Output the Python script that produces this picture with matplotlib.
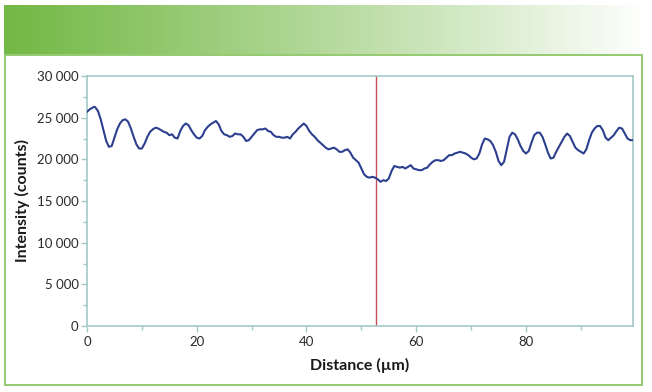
import numpy as np
import matplotlib
matplotlib.use("Agg")
import matplotlib.pyplot as plt
from matplotlib.ticker import MultipleLocator, FuncFormatter
from matplotlib.patches import Rectangle

# ---- data ----
distance_um = [
    0.0, 0.5, 1.0, 1.3, 1.5, 2.0, 2.5, 3.0, 3.5, 4.0, 4.5, 5.0, 5.5, 6.0, 6.5, 7.0, 7.5, 8.0, 8.5, 9.0,
    9.5, 10.0, 10.5, 11.0, 11.5, 12.0, 12.5, 13.0, 13.5, 14.0, 14.5, 15.0, 15.5, 16.0, 16.5, 17.0, 17.5,
    18.0, 18.5, 19.0, 19.5, 20.0, 20.5, 21.0, 21.5, 22.0, 22.5, 23.0, 23.5, 24.0, 24.5, 25.0, 25.5, 26.0,
    26.5, 27.0, 27.5, 28.0, 28.5, 29.0, 29.5, 30.0, 30.5, 31.0, 31.5, 32.0, 32.5, 33.0, 33.5, 34.0, 34.5,
    35.0, 35.5, 36.0, 36.5, 37.0, 37.5, 38.0, 38.5, 39.0, 39.5, 40.0, 40.5, 41.0, 41.5, 42.0, 42.5, 43.0,
    43.5, 44.0, 44.5, 45.0, 45.5, 46.0, 46.5, 47.0, 47.5, 48.0, 48.5, 49.0, 49.5, 50.0, 50.5, 51.0, 51.5,
    52.0, 52.5, 53.0, 53.5, 54.0, 54.5, 55.0, 55.5, 56.0, 56.5, 57.0, 57.5, 58.0, 58.5, 59.0, 59.5, 60.0,
    60.5, 61.0, 61.5, 62.0, 62.5, 63.0, 63.5, 64.0, 64.5, 65.0, 65.5, 66.0, 66.5, 67.0, 67.5, 68.0, 68.5,
    69.0, 69.5, 70.0, 70.5, 71.0, 71.5, 72.0, 72.5, 73.0, 73.5, 74.0, 74.5, 75.0, 75.5, 76.0, 76.5, 77.0,
    77.5, 78.0, 78.5, 79.0, 79.5, 80.0, 80.5, 81.0, 81.5, 82.0, 82.5, 83.0, 83.5, 84.0, 84.5, 85.0, 85.5,
    86.0, 86.5, 87.0, 87.5, 88.0, 88.5, 89.0, 89.5, 90.0, 90.5, 91.0, 91.5, 92.0, 92.5, 93.0, 93.5, 94.0,
    94.5, 95.0, 95.5, 96.0, 96.5, 97.0, 97.5, 98.0, 98.5, 99.0, 99.3,
]
intensity_counts = [
    25700, 26000, 26200, 26300, 26250, 25800, 24800, 23500, 22200, 21500, 21600, 22600, 23600, 24300,
    24700, 24800, 24500, 23700, 22700, 21800, 21300, 21300, 21900, 22700, 23300, 23600, 23800, 23700,
    23500, 23300, 23200, 22900, 23000, 22600, 22500, 23400, 24000, 24300, 24100, 23500, 23000, 22600,
    22500, 22800, 23500, 23900, 24200, 24400, 24600, 24200, 23400, 23000, 22900, 22700, 22800, 23100,
    23000, 23000, 22700, 22200, 22300, 22700, 23100, 23500, 23600, 23600, 23700, 23400, 23300, 22900,
    22700, 22700, 22600, 22600, 22700, 22500, 23000, 23300, 23700, 24000, 24300, 24000, 23400, 23000,
    22700, 22300, 22000, 21700, 21400, 21200, 21300, 21400, 21200, 20900, 20900, 21100, 21200, 20800,
    20200, 19900, 19600, 18900, 18200, 17900, 17800, 17900, 17800, 17600, 17300, 17500, 17400, 17700,
    18600, 19200, 19100, 19000, 19100, 18900, 19100, 19300, 18900, 18800, 18700, 18700, 18900, 19000,
    19400, 19700, 19900, 19900, 19800, 19900, 20200, 20500, 20500, 20700, 20800, 20900, 20800, 20700,
    20500, 20200, 20000, 20100, 20700, 21800, 22500, 22400, 22200, 21700, 20900, 19800, 19300, 19700,
    21200, 22700, 23200, 23000, 22400, 21600, 21000, 20700, 21000, 22000, 22900, 23200, 23200, 22700,
    21800, 20800, 20100, 20200, 20900, 21500, 22100, 22700, 23100, 22800, 22100, 21400, 21100, 20900,
    20700, 21200, 22300, 23200, 23700, 24000, 24000, 23500, 22600, 22300, 22600, 22900, 23400, 23800,
    23700, 23100, 22500, 22300, 22300,
]
marker_position_um = 52.6
x_ticks = [0, 20, 40, 60, 80]
y_ticks = [0, 5000, 10000, 15000, 20000, 25000, 30000]
x_label = "Distance (µm)"
y_label = "Intensity (counts)"

# ---- figure ----
W, H = 652, 392
fig = plt.figure(figsize=(W / 100, H / 100), dpi=100)
fig.patch.set_facecolor("white")

# background decoration (header gradient + green box)
bg = fig.add_axes([0, 0, 1, 1], zorder=0)
bg.set_xlim(0, W)
bg.set_ylim(H, 0)
bg.axis("off")
c0 = np.array([0.455, 0.725, 0.275])
c1 = np.array([1.0, 1.0, 1.0])
t = np.linspace(0, 1, 256) ** 1.1
grad = (c0[None, :] * (1 - t[:, None]) + c1[None, :] * t[:, None])[None, :, :]
bg.imshow(grad, extent=[4, 648, 54, 5], aspect="auto", interpolation="bilinear")
bg.add_patch(Rectangle((5, 54.5), 637, 330.5, fill=False, edgecolor="#8cc665", lw=1.3))
bg.set_xlim(0, W)
bg.set_ylim(H, 0)

plt.rcParams["font.family"] = ["Lato", "DejaVu Sans"]

ax = fig.add_axes([87 / W, 1 - 326 / H, (633 - 87) / W, (326 - 76) / H], zorder=2)
ax.set_facecolor("white")
ax.plot(distance_um, intensity_counts, color="#2c3f8f", lw=1.5, zorder=3)
ax.axvline(marker_position_um, color="#c9505a", lw=1.0, zorder=2)

ax.set_xlim(0, 99.5)
ax.set_ylim(0, 30000)
ax.set_xticks(x_ticks)
ax.set_yticks(y_ticks)
ax.xaxis.set_minor_locator(MultipleLocator(10))
ax.yaxis.set_minor_locator(MultipleLocator(2500))
ax.yaxis.set_major_formatter(FuncFormatter(lambda v, p: f"{int(v):,}".replace(",", " ")))

spine_col = "#a3c9c7"
for s in ax.spines.values():
    s.set_color(spine_col)
    s.set_linewidth(1.2)
ax.tick_params(axis="both", which="major", length=4, width=1.0, color=spine_col,
               labelsize=9.5, labelcolor="#2a2a2a", pad=2)
ax.tick_params(axis="both", which="minor", length=3, width=1.0, color=spine_col)
ax.tick_params(axis="x", pad=3)

ax.set_xlabel(x_label, fontsize=11.5, fontweight="bold", color="#1a1a1a", labelpad=7)
ax.set_ylabel(y_label, fontsize=11.5, fontweight="bold", color="#1a1a1a", labelpad=5)

fig.savefig("out.png", dpi=100)
